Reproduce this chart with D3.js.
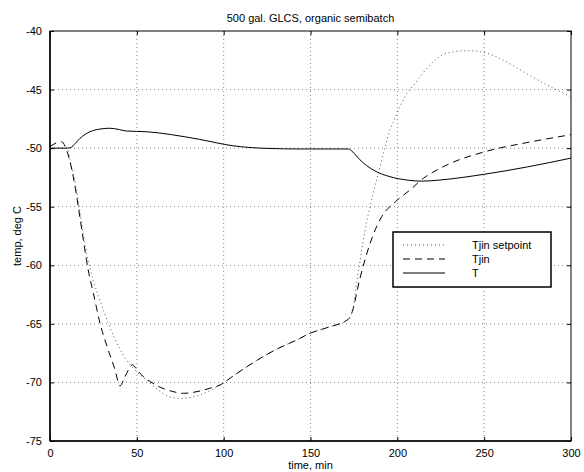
<!DOCTYPE html>
<html>
<head>
<meta charset="utf-8">
<script src="https://cdn.jsdelivr.net/npm/d3@7"></script>
<style>
  body { margin: 0; background: #fff; }
  text { font-family: "Liberation Sans", Arial, sans-serif; fill: #000; }
</style>
</head>
<body>
<div class="canva"></div>
<script>
// Tjin setpoint (dotted)
const setpointTime = [0, 10, 11.5, 15.3, 18.2, 21.1, 24.9, 28.8, 33.6, 40, 48, 55.7, 62, 68.1, 74.9, 80, 86.4, 92, 97.9, 105, 115, 130, 142, 149.7, 160, 171.8, 174.6, 176.6, 179.5, 182.3, 184.3, 186.2, 190, 192.9, 195.8, 198.7, 201.5, 204.4, 210.2, 218.8, 228.4, 240, 249.5, 261, 272.5, 286, 300];
const setpointTemp = [-50, -50, -51, -53.6, -56.4, -59.0, -61.3, -63.0, -64.95, -67.1, -68.8, -69.8, -70.6, -71.2, -71.36, -71.3, -71.07, -70.7, -70.22, -69.5, -68.5, -67.2, -66.38, -65.81, -65.3, -64.6, -63.54, -61.54, -58.7, -56.3, -55.0, -53.8, -51.6, -49.9, -48.45, -47.45, -46.46, -45.6, -44.47, -42.9, -41.9, -41.68, -41.82, -42.48, -43.47, -44.6, -45.6];

// Tjin (dashed)
const tjinTime = [0, 6.7, 9.6, 13.4, 16.3, 19.2, 22, 25, 28.8, 33, 37.4, 40.3, 43.2, 47.5, 50, 53.7, 58, 63.3, 70, 76.8, 86.4, 92, 97.9, 105, 115, 130, 142, 149.7, 160, 171.8, 173.7, 178.5, 184.3, 191, 198.7, 207.3, 215, 222.7, 228.4, 250.5, 274.5, 300];
const tjinTemp = [-49.85, -49.45, -50.2, -52.44, -55.0, -57.84, -60.4, -62.4, -64.95, -67.0, -68.9, -70.3, -69.5, -68.5, -68.9, -69.5, -69.95, -70.4, -70.75, -70.93, -70.73, -70.5, -70.22, -69.5, -68.5, -67.2, -66.38, -65.81, -65.3, -64.6, -64.1, -61.1, -58.13, -55.85, -54.6, -53.57, -52.57, -51.87, -51.44, -50.3, -49.53, -48.85];

// T (solid)
const tTime = [0, 10, 12, 14.5, 17.3, 20, 23, 28.8, 34.5, 40, 44, 55.7, 70, 86, 105.5, 124.8, 144, 171.8, 174.5, 178.5, 186.2, 195.8, 205.4, 214, 224.5, 250, 275, 300];
const tTemp = [-50, -50, -49.95, -49.6, -49.16, -48.85, -48.6, -48.37, -48.3, -48.42, -48.54, -48.6, -48.85, -49.25, -49.8, -50.02, -50.07, -50.07, -50.35, -51.0, -51.87, -52.44, -52.72, -52.82, -52.72, -52.23, -51.6, -50.85];

const xTicks = [0, 50, 100, 150, 200, 250, 300];
const yTicks = [-40, -45, -50, -55, -60, -65, -70, -75];
const seriesNames = ["Tjin setpoint", "Tjin", "T"];

const svg = d3.select(".canva").append("svg")
    .attr("width", 584)
    .attr("height", 472);

const margin = {top: 31, right: 13, bottom: 31, left: 50};
const width = 584 - margin.left - margin.right;
const height = 472 - margin.top - margin.bottom;

const graph = svg.append("g")
    .attr("transform", `translate(${margin.left}, ${margin.top})`);

const xScale = d3.scaleLinear().domain([0, 300]).range([0, width]);
const yScale = d3.scaleLinear().domain([-75, -40]).range([height, 0]);

// grid
graph.append("g")
    .selectAll("line")
    .data(xTicks.slice(1, -1))
    .enter()
    .append("line")
    .attr("x1", d => xScale(d)).attr("x2", d => xScale(d))
    .attr("y1", 0).attr("y2", height)
    .attr("stroke", "#888")
    .attr("stroke-dasharray", "1,3");

graph.append("g")
    .selectAll("line")
    .data(yTicks.slice(1, -1))
    .enter()
    .append("line")
    .attr("y1", d => yScale(d)).attr("y2", d => yScale(d))
    .attr("x1", 0).attr("x2", width)
    .attr("stroke", "#888")
    .attr("stroke-dasharray", "1,3");

// axes with inward ticks, plain hyphen minus like the original
const plain = d => String(d);
const xAxis = d3.axisBottom(xScale).tickValues(xTicks).tickSize(-4).tickPadding(8).tickFormat(plain);
const yAxis = d3.axisLeft(yScale).tickValues(yTicks).tickSize(-4).tickPadding(8).tickFormat(plain);

graph.append("g")
    .attr("transform", `translate(0, ${height})`)
    .call(xAxis)
    .call(g => g.select(".domain").remove())
    .selectAll("text").style("font-size", "11px").style("font-family", "Liberation Sans, Arial, sans-serif");

graph.append("g")
    .call(yAxis)
    .call(g => g.select(".domain").remove())
    .selectAll("text").style("font-size", "11px").style("font-family", "Liberation Sans, Arial, sans-serif");

graph.append("g")
    .call(d3.axisTop(xScale).tickValues(xTicks).tickSize(-4).tickFormat(""))
    .call(g => g.select(".domain").remove());

graph.append("g")
    .attr("transform", `translate(${width}, 0)`)
    .call(d3.axisRight(yScale).tickValues(yTicks).tickSize(-4).tickFormat(""))
    .call(g => g.select(".domain").remove());

// frame
graph.append("rect")
    .attr("width", width)
    .attr("height", height)
    .attr("fill", "none")
    .attr("stroke", "black")
    .attr("stroke-width", 1);
graph.append("line")
    .attr("x1", 0).attr("x2", 0).attr("y1", 0).attr("y2", height)
    .attr("stroke", "black").attr("stroke-width", 1.5);
graph.append("line")
    .attr("x1", 0).attr("x2", width).attr("y1", height).attr("y2", height)
    .attr("stroke", "black").attr("stroke-width", 1.5);

// lines
const series = [
    {name: seriesNames[0], time: setpointTime, temp: setpointTemp, dash: "1,3", color: "#555", w: 1},
    {name: seriesNames[1], time: tjinTime, temp: tjinTemp, dash: "7,5", color: "#000", w: 1},
    {name: seriesNames[2], time: tTime, temp: tTemp, dash: null, color: "#000", w: 1}
];

const line = d3.line()
    .x(d => xScale(d[0]))
    .y(d => yScale(d[1]))
    .curve(d3.curveMonotoneX);

graph.selectAll(".series")
    .data(series)
    .enter()
    .append("path")
    .attr("class", "series")
    .attr("d", s => line(s.time.map((t, i) => [t, s.temp[i]])))
    .attr("fill", "none")
    .attr("stroke", s => s.color)
    .attr("stroke-width", s => s.w)
    .attr("stroke-dasharray", s => s.dash);

// legend
const legend = svg.append("g").attr("transform", "translate(393, 232)");
legend.append("rect")
    .attr("width", 158)
    .attr("height", 55)
    .attr("fill", "white")
    .attr("stroke", "black")
    .attr("stroke-width", 1.5);

series.forEach((s, i) => {
    const y = 13 + i * 14;
    legend.append("line")
        .attr("x1", 10).attr("x2", 52)
        .attr("y1", y).attr("y2", y)
        .attr("stroke", s.color)
        .attr("stroke-width", s.w)
        .attr("stroke-dasharray", s.dash);
    legend.append("text")
        .attr("x", 79)
        .attr("y", y + 4)
        .style("font-size", "11px")
        .text(s.name);
});

// titles
svg.append("text")
    .attr("x", margin.left + width / 2)
    .attr("y", 22)
    .attr("text-anchor", "middle")
    .style("font-size", "11px")
    .text("500 gal. GLCS, organic semibatch");

svg.append("text")
    .attr("x", margin.left + width / 2)
    .attr("y", 469)
    .attr("text-anchor", "middle")
    .style("font-size", "11px")
    .text("time, min");

svg.append("text")
    .attr("transform", `translate(21, ${margin.top + height / 2}) rotate(-90)`)
    .attr("text-anchor", "middle")
    .style("font-size", "11px")
    .text("temp, deg C");
</script>
</body>
</html>
